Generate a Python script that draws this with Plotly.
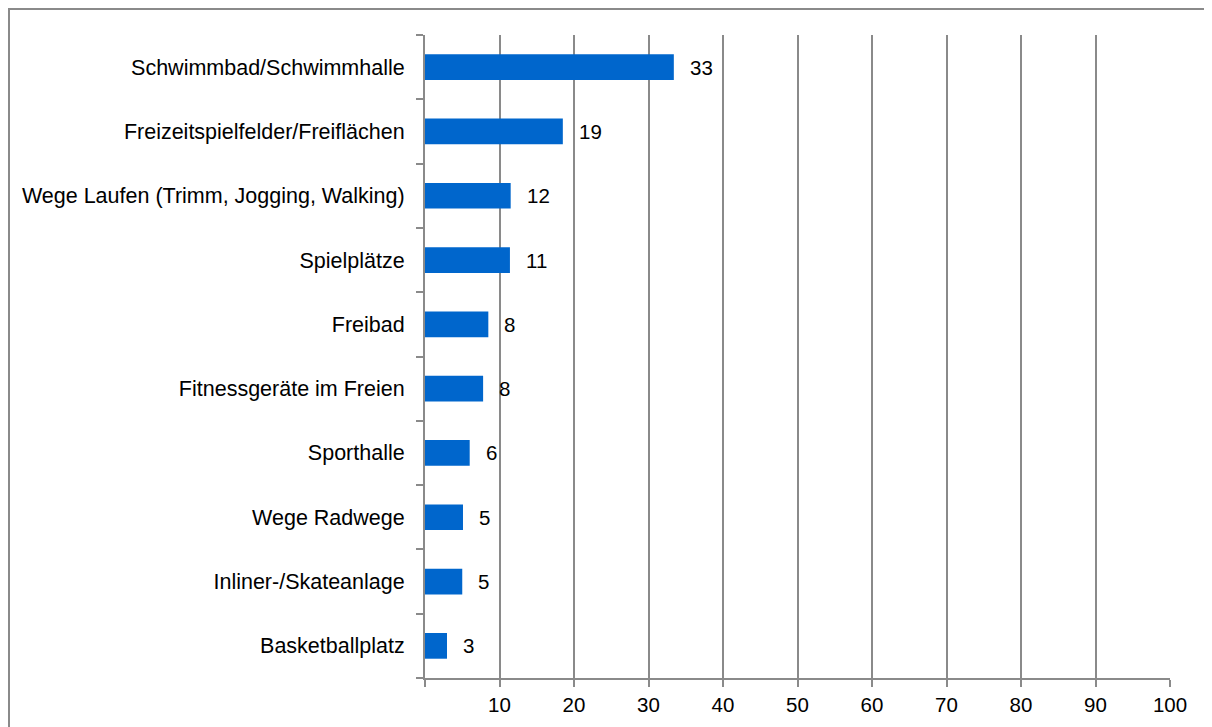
import plotly.graph_objects as go

categories = [
    "Schwimmbad/Schwimmhalle",
    "Freizeitspielfelder/Freiflächen",
    "Wege Laufen (Trimm, Jogging, Walking)",
    "Spielplätze",
    "Freibad",
    "Fitnessgeräte im Freien",
    "Sporthalle",
    "Wege Radwege",
    "Inliner-/Skateanlage",
    "Basketballplatz",
]
values = [33.4, 18.5, 11.5, 11.4, 8.5, 7.8, 6.0, 5.1, 5.0, 2.95]
labels = ["33", "19", "12", "11", "8", "8", "6", "5", "5", "3"]
x_ticks = [0, 10, 20, 30, 40, 50, 60, 70, 80, 90, 100]
x_tick_text = ["", "10", "20", "30", "40", "50", "60", "70", "80", "90", "100"]

FONT = "Liberation Sans, Arial, sans-serif"
GRAY = "#8a8a8a"

fig = go.Figure()
fig.add_trace(go.Bar(
    x=values, y=categories, orientation="h",
    marker=dict(color="#0066CC", line=dict(width=0)),
    hoverinfo="skip",
))

for c, v, t in zip(categories, values, labels):
    fig.add_annotation(x=v, y=c, text=t, showarrow=False, xanchor="left",
                       xshift=14, font=dict(family=FONT, size=20.5, color="black"))

# page body has an 8px margin, so the figure is 8px smaller
W, H = 1204, 719
L, R, T, B = 417, 42, 27, 49
pw = W - L - R
ph = H - T - B

fig.add_shape(type="rect", xref="paper", yref="paper",
              x0=(1 - L) / pw, x1=(W + 20 - L) / pw,
              y0=-(B + 20) / ph, y1=1 + (T - 1) / ph,
              line=dict(color=GRAY, width=2), layer="below")

fig.update_layout(
    width=W, height=H,
    margin=dict(l=L, r=R, t=T, b=B, pad=0),
    paper_bgcolor="white", plot_bgcolor="white",
    bargap=0.6, showlegend=False,
    font=dict(family=FONT, size=20.5, color="black"),
    xaxis=dict(range=[0, 100], tickvals=x_ticks, ticktext=x_tick_text,
               showgrid=True, gridcolor=GRAY, gridwidth=2,
               showline=True, linecolor=GRAY, linewidth=2,
               ticks="outside", ticklen=7, tickcolor=GRAY, tickwidth=2,
               tickfont=dict(size=20.5),
               zeroline=False, fixedrange=True),
    yaxis=dict(categoryorder="array", categoryarray=categories[::-1],
               showline=True, linecolor=GRAY, linewidth=2,
               ticks="outside", ticklen=7, tickcolor=GRAY, tickwidth=2,
               tickson="boundaries", ticklabelstandoff=14,
               tickfont=dict(size=21.5),
               showgrid=False, fixedrange=True),
)

fig.write_html("out.html")
